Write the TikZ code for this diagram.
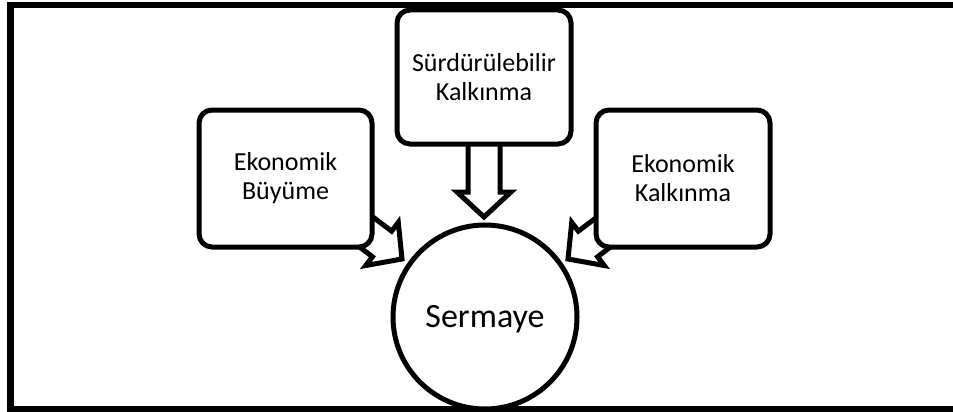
\documentclass[tikz,border=0pt]{standalone}
\usepackage{fontspec}
\setmainfont{Carlito}
\begin{document}
\begin{tikzpicture}[x=1pt,y=-1pt,
  frame/.style={line width=6.5pt},
  box/.style={draw, line width=5pt, rounded corners=13pt, fill=white,
    align=center, inner sep=0pt, font=\fontsize{26}{29}\selectfont},
  blockarrow/.style={draw, line width=5pt, fill=white, line join=miter, miter limit=10},
  hub/.style={draw, circle, line width=5pt, fill=white, inner sep=0pt,
    minimum size=184pt, font=\fontsize{34}{40}\selectfont,
    text height=21.5pt, text depth=0pt}]
\useasboundingbox (0,0) rectangle (953,412);
\clip (0,0) rectangle (953,412);
\draw[frame] (10.5,5) rectangle (975,409);
% arrow tips
\coordinate (t1) at (402,259);
\coordinate (t2) at (484,217);
\coordinate (t3) at (568,259);
% block arrows (drawn below the boxes)
\begin{scope}[shift={(t1)}, rotate=-37]
  \draw[blockarrow] (0,0) -- (-25,27) -- (-25,16) -- (-90,16) -- (-90,-16) -- (-25,-16) -- (-25,-27) -- cycle;
\end{scope}
\begin{scope}[shift={(t2)}, rotate=-90]
  \draw[blockarrow] (0,0) -- (-25,27) -- (-25,16) -- (-90,16) -- (-90,-16) -- (-25,-16) -- (-25,-27) -- cycle;
\end{scope}
\begin{scope}[shift={(t3)}, rotate=-143]
  \draw[blockarrow] (0,0) -- (-25,27) -- (-25,16) -- (-90,16) -- (-90,-16) -- (-25,-16) -- (-25,-27) -- cycle;
\end{scope}
% boxes
\node[box, minimum width=173pt, minimum height=137pt] (eb) at (285.5,178.5) {Ekonomik\\Büyüme};
\node[box, minimum width=174pt, minimum height=134pt] (sk) at (484,77) {Sürdürülebilir\\Kalkınma};
\node[box, minimum width=174pt, minimum height=137pt] (ek) at (683,178.5) {Ekonomik\\Kalkınma};
\node[hub] (s) at (485,317) {Sermaye};
\end{tikzpicture}
\end{document}
